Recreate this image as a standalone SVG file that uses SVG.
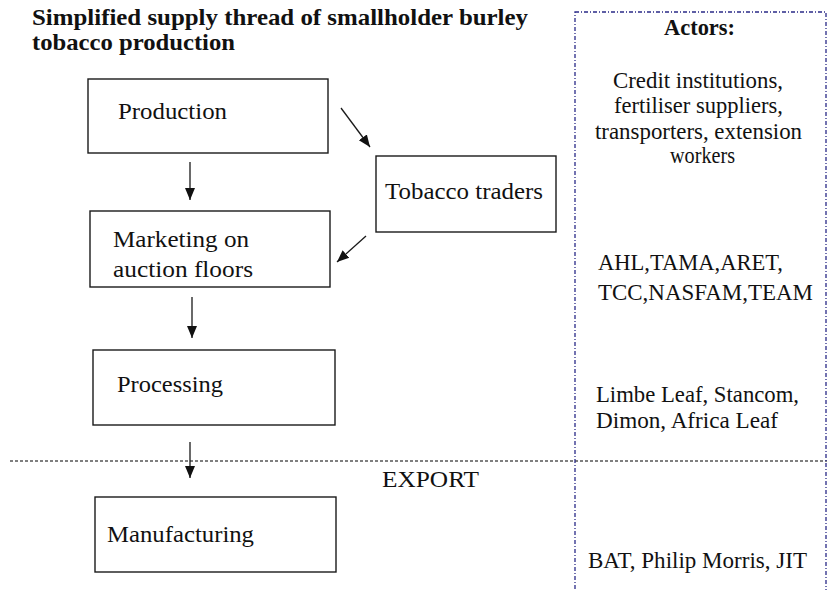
<svg xmlns="http://www.w3.org/2000/svg" width="827" height="590" viewBox="0 0 827 590">
<style>
  .box { fill: #ffffff; stroke: #1a1a1a; stroke-width: 1.4; }
  .t { font-family: 'Liberation Serif', 'Times New Roman', serif; font-size: 23px; fill: #111111; }
  .b { font-family: 'Liberation Serif', 'Times New Roman', serif; font-size: 23px; font-weight: bold; fill: #111111; }
  .arrow { stroke: #1a1a1a; stroke-width: 1.3; fill: none; marker-end: url(#ah); }
  .sep { stroke: #555555; stroke-width: 1.4; stroke-dasharray: 3 2; fill: none; }
  .actors { stroke: #2a2a88; stroke-width: 1.3; stroke-dasharray: 4 2 1 2; fill: none; }
</style>
<defs>
  <marker id="ah" markerWidth="12" markerHeight="12" viewBox="0 0 12 12" refX="12" refY="6" orient="auto" markerUnits="userSpaceOnUse">
    <path d="M0,1 L12,6 L0,11 Z" fill="#111111"/>
  </marker>
</defs>
<rect width="827" height="590" fill="#ffffff"/>

<g id="title">
  <text class="b" x="32" y="25" textLength="496" lengthAdjust="spacingAndGlyphs">Simplified supply thread of smallholder burley</text>
  <text class="b" x="32" y="50" textLength="203" lengthAdjust="spacingAndGlyphs">tobacco production</text>
</g>

<g id="separator">
  <line class="sep" x1="10" y1="461" x2="827" y2="461"/>
  <text class="t" x="382" y="487" textLength="97" lengthAdjust="spacingAndGlyphs">EXPORT</text>
</g>

<g id="actors-panel">
  <rect class="actors" x="575" y="12" width="251" height="600"/>
  <text class="b" x="664" y="35" textLength="71" lengthAdjust="spacingAndGlyphs">Actors:</text>
  <text class="t" x="613" y="88" textLength="170" lengthAdjust="spacingAndGlyphs">Credit institutions,</text>
  <text class="t" x="614" y="113" textLength="169" lengthAdjust="spacingAndGlyphs">fertiliser suppliers,</text>
  <text class="t" x="595" y="139" textLength="207" lengthAdjust="spacingAndGlyphs">transporters, extension</text>
  <text class="t" x="670" y="163" textLength="65" lengthAdjust="spacingAndGlyphs">workers</text>
  <text class="t" x="598" y="270" textLength="185" lengthAdjust="spacingAndGlyphs">AHL,TAMA,ARET,</text>
  <text class="t" x="598" y="300" textLength="215" lengthAdjust="spacingAndGlyphs">TCC,NASFAM,TEAM</text>
  <text class="t" x="596" y="402" textLength="203" lengthAdjust="spacingAndGlyphs">Limbe Leaf, Stancom,</text>
  <text class="t" x="596" y="428" textLength="182" lengthAdjust="spacingAndGlyphs">Dimon, Africa Leaf</text>
  <text class="t" x="588" y="568" textLength="219" lengthAdjust="spacingAndGlyphs">BAT, Philip Morris, JIT</text>
</g>

<g id="production">
  <rect class="box" x="88" y="79" width="240" height="74"/>
  <text class="t" x="118" y="119" textLength="109" lengthAdjust="spacingAndGlyphs">Production</text>
</g>

<g id="tobacco-traders">
  <rect class="box" x="376" y="156" width="180" height="76"/>
  <text class="t" x="385" y="199" textLength="158" lengthAdjust="spacingAndGlyphs">Tobacco traders</text>
</g>

<g id="marketing">
  <rect class="box" x="90" y="211" width="240" height="76"/>
  <text class="t" x="113" y="247" textLength="136" lengthAdjust="spacingAndGlyphs">Marketing on</text>
  <text class="t" x="113" y="277" textLength="140" lengthAdjust="spacingAndGlyphs">auction floors</text>
</g>

<g id="processing">
  <rect class="box" x="93" y="350" width="242" height="75"/>
  <text class="t" x="117" y="392" textLength="106" lengthAdjust="spacingAndGlyphs">Processing</text>
</g>

<g id="manufacturing">
  <rect class="box" x="95" y="497" width="241" height="75"/>
  <text class="t" x="107" y="542" textLength="147" lengthAdjust="spacingAndGlyphs">Manufacturing</text>
</g>

<g id="connectors">
  <line class="arrow" x1="190" y1="162" x2="190" y2="200"/>
  <line class="arrow" x1="341" y1="108" x2="370" y2="147"/>
  <line class="arrow" x1="366" y1="236" x2="337" y2="262"/>
  <line class="arrow" x1="192" y1="297" x2="192" y2="338"/>
  <line class="arrow" x1="190" y1="442" x2="190" y2="478"/>
</g>
</svg>
